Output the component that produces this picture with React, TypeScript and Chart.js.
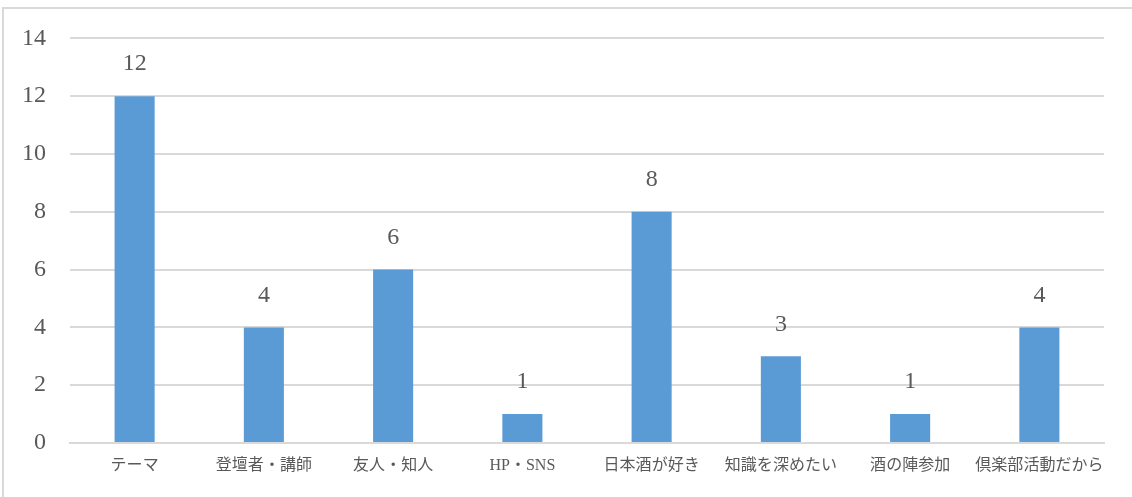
import React, { useEffect, useRef } from "react";
import { Chart, registerables } from "chart.js";

Chart.register(...registerables);

const categories = [
  "テーマ",
  "登壇者・講師",
  "友人・知人",
  "HP・SNS",
  "日本酒が好き",
  "知識を深めたい",
  "酒の陣参加",
  "倶楽部活動だから",
];
const values = [12, 4, 6, 1, 8, 3, 1, 4];
const yMin = 0;
const yMax = 14;
const yStep = 2;

const TEXT = "#595959";
const FONT = "'Liberation Serif', 'Noto Sans CJK JP', serif";

const valueLabels = {
  id: "valueLabels",
  afterDatasetsDraw(chart: any) {
    const ctx = chart.ctx;
    const meta = chart.getDatasetMeta(0);
    ctx.save();
    ctx.fillStyle = TEXT;
    ctx.font = `24px ${FONT}`;
    ctx.textAlign = "center";
    ctx.textBaseline = "middle";
    meta.data.forEach((bar: any, i: number) => {
      ctx.fillText(String(values[i]), bar.x, bar.y - 32);
    });
    ctx.restore();
  },
};

export default function App() {
  const ref = useRef<HTMLCanvasElement>(null);
  useEffect(() => {
    document.body.style.margin = "0";
    const chart = new Chart(ref.current!, {
      type: "bar",
      data: {
        labels: categories,
        datasets: [
          {
            data: values,
            backgroundColor: "#5B9BD5",
            barPercentage: 0.31,
            categoryPercentage: 1,
          },
        ],
      },
      options: {
        animation: false,
        responsive: false,
        maintainAspectRatio: false,
        layout: { padding: { left: 0, right: 28, top: 37, bottom: 0 } },
        plugins: { legend: { display: false }, tooltip: { enabled: false } },
        scales: {
          x: {
            grid: { display: false, drawTicks: false },
            border: { display: true, color: "#D9D9D9", width: 2 },
            ticks: {
              color: TEXT,
              font: { family: FONT, size: 16 },
              padding: 13,
              maxRotation: 0,
              autoSkip: false,
            },
            afterFit(scale: any) {
              scale.height = 54;
            },
          },
          y: {
            min: yMin,
            max: yMax,
            grid: { color: "#D9D9D9", lineWidth: 2, drawTicks: false },
            border: { display: false },
            ticks: {
              stepSize: yStep,
              color: TEXT,
              font: { family: FONT, size: 24 },
              padding: 24,
            },
            afterFit(scale: any) {
              scale.width = 70;
            },
          },
        },
      },
      plugins: [valueLabels],
    });
    return () => chart.destroy();
  }, []);
  return (
    <div style={{ position: "relative", width: 1132, height: 497, overflow: "hidden", background: "#fff" }}>
      <div
        style={{
          position: "absolute",
          left: 2,
          top: 7,
          width: 1200,
          height: 600,
          borderTop: "2px solid #D9D9D9",
          borderLeft: "2px solid #D9D9D9",
        }}
      />
      <canvas ref={ref} width={1132} height={497} style={{ position: "absolute", left: 0, top: 0, width: 1132, height: 497 }} />
    </div>
  );
}
